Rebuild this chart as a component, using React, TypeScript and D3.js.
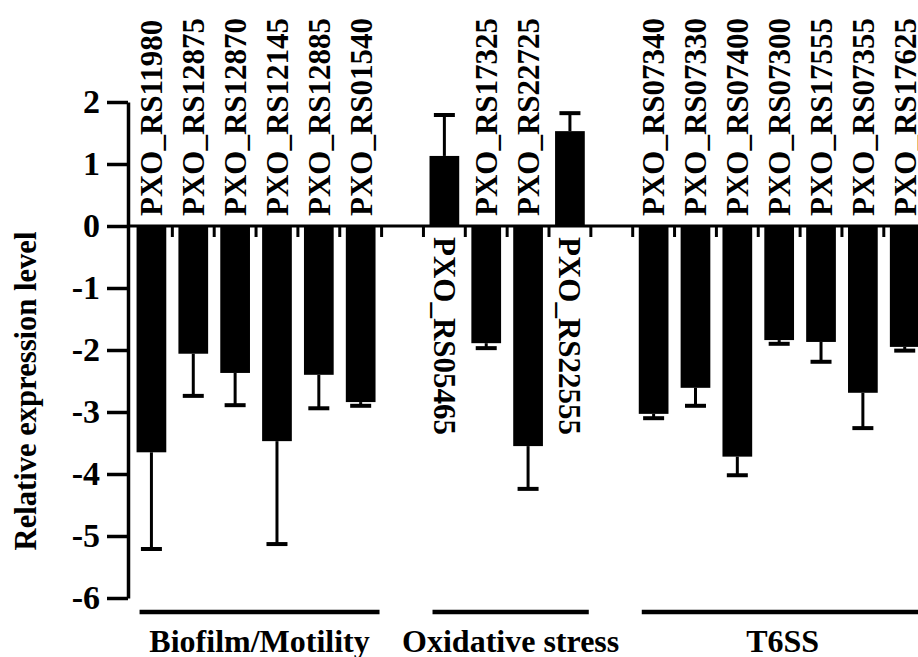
import React, { useRef, useEffect } from 'react';
import * as d3 from 'd3';

const groups = ['Biofilm/Motility', 'Oxidative stress', 'T6SS'];

const genes = [
  'PXO_RS11980', 'PXO_RS12875', 'PXO_RS12870', 'PXO_RS12145', 'PXO_RS12885', 'PXO_RS01540',
  'PXO_RS05465', 'PXO_RS17325', 'PXO_RS22725', 'PXO_RS22555',
  'PXO_RS07340', 'PXO_RS07330', 'PXO_RS07400', 'PXO_RS07300', 'PXO_RS17555', 'PXO_RS07355', 'PXO_RS17625',
];
const geneGroup = [0, 0, 0, 0, 0, 0, 1, 1, 1, 1, 2, 2, 2, 2, 2, 2, 2];

const values = [
  -3.65, -2.06, -2.37, -3.47, -2.4, -2.84,
  1.13, -1.89, -3.55, 1.53,
  -3.03, -2.61, -3.72, -1.84, -1.87, -2.69, -1.95,
];
const errors = [
  1.56, 0.68, 0.52, 1.66, 0.54, 0.06,
  0.66, 0.08, 0.69, 0.29,
  0.07, 0.29, 0.3, 0.06, 0.32, 0.57, 0.06,
];

const yTicks = [2, 1, 0, -1, -2, -3, -4, -5, -6];
const yTitle = 'Relative expression level';

const W = 918;
const H = 657;
const FONT = '"Liberation Serif", "Times New Roman", serif';

function App() {
  const svgRef = useRef<SVGSVGElement>(null);

  useEffect(() => {
    const svg = d3.select(svgRef.current);
    svg.selectAll('*').remove();

    // one slot per gene, with an empty slot between groups
    const slots: number[] = [];
    groups.forEach((g, gi) => {
      genes.forEach((name, i) => {
        if (geneGroup[i] === gi) slots.push(i);
      });
      if (gi < groups.length - 1) slots.push(-1);
    });

    const step = 41.85;
    const x = d3
      .scaleBand<number>()
      .domain(slots.map((s, i) => i))
      .range([130.5, 130.5 + step * slots.length])
      .paddingInner(0.29)
      .paddingOuter(0.145);
    const bw = x.bandwidth();

    const y = d3.scaleLinear().domain([-6, 2]).range([598, 102]);
    const y0 = y(0);

    // y axis
    const yAxis = svg
      .append('g')
      .attr('transform', 'translate(128,0)')
      .call(d3.axisLeft(y).tickValues(yTicks).tickSize(21).tickSizeOuter(0).tickPadding(7).tickFormat(d3.format('d')));
    yAxis.select('.domain').attr('stroke', '#000').attr('stroke-width', 3.5);
    yAxis.selectAll('.tick line').attr('stroke', '#000').attr('stroke-width', 3.5);
    yAxis
      .selectAll('.tick text')
      .attr('fill', '#000')
      .attr('font-family', FONT)
      .attr('font-weight', 'bold')
      .attr('font-size', 34)
      .text((d: any) => (d < 0 ? '-' + Math.abs(d) : String(d)));

    svg
      .append('text')
      .attr('transform', 'translate(25,391) rotate(-90)')
      .attr('text-anchor', 'middle')
      .attr('dy', '0.35em')
      .attr('font-family', FONT)
      .attr('font-weight', 'bold')
      .attr('font-size', 30.6)
      .text(yTitle);

    // zero line and slot ticks
    svg
      .append('line')
      .attr('x1', 128)
      .attr('x2', W)
      .attr('y1', y0)
      .attr('y2', y0)
      .attr('stroke', '#000')
      .attr('stroke-width', 3);

    svg
      .append('g')
      .selectAll('line')
      .data(slots.slice(1).map((s, i) => i + 1))
      .join('line')
      .attr('x1', (i) => x(i)! - (step - bw) / 2)
      .attr('x2', (i) => x(i)! - (step - bw) / 2)
      .attr('y1', y0)
      .attr('y2', y0 + 11)
      .attr('stroke', '#000')
      .attr('stroke-width', 3);

    const items = slots
      .map((g, i) => ({ gene: g, slot: i }))
      .filter((d) => d.gene >= 0)
      .map((d) => ({ ...d, v: values[d.gene], e: errors[d.gene], name: genes[d.gene], cx: x(d.slot)! + bw / 2 }));

    // error bars
    const eb = svg.append('g').attr('stroke', '#000');
    eb.selectAll('line.stem')
      .data(items)
      .join('line')
      .attr('class', 'stem')
      .attr('x1', (d) => d.cx)
      .attr('x2', (d) => d.cx)
      .attr('y1', (d) => y(d.v))
      .attr('y2', (d) => y(d.v + Math.sign(d.v) * d.e))
      .attr('stroke-width', 3);
    eb.selectAll('line.cap')
      .data(items)
      .join('line')
      .attr('class', 'cap')
      .attr('x1', (d) => d.cx - 10.5)
      .attr('x2', (d) => d.cx + 10.5)
      .attr('y1', (d) => y(d.v + Math.sign(d.v) * d.e))
      .attr('y2', (d) => y(d.v + Math.sign(d.v) * d.e))
      .attr('stroke-width', 4);

    // bars
    svg
      .append('g')
      .selectAll('rect')
      .data(items)
      .join('rect')
      .attr('x', (d) => x(d.slot)!)
      .attr('width', bw)
      .attr('y', (d) => Math.min(y(d.v), y0))
      .attr('height', (d) => Math.abs(y(d.v) - y0))
      .attr('fill', '#000');

    // gene labels on the opposite side of the zero line
    svg
      .append('g')
      .selectAll('text')
      .data(items)
      .join('text')
      .attr('transform', (d) =>
        d.v < 0 ? `translate(${d.cx},${y0 - 10}) rotate(-90)` : `translate(${d.cx},${y0 + 11}) rotate(90)`
      )
      .attr('text-anchor', 'start')
      .attr('dy', '0.35em')
      .attr('font-family', FONT)
      .attr('font-weight', 'bold')
      .attr('font-size', 31)
      .text((d) => d.name);

    // group brackets
    const gData = groups.map((g, gi) => {
      const s = items.filter((d) => geneGroup[d.gene] === gi);
      const x1 = x(s[0].slot)! + 3;
      const x2 = x(s[s.length - 1].slot)! + bw + 4;
      return { g, x1, x2 };
    });
    const gg = svg.append('g');
    gg.selectAll('line')
      .data(gData)
      .join('line')
      .attr('x1', (d) => d.x1)
      .attr('x2', (d) => d.x2)
      .attr('y1', 612)
      .attr('y2', 612)
      .attr('stroke', '#000')
      .attr('stroke-width', 4.5);
    gg.selectAll('text')
      .data(gData)
      .join('text')
      .attr('x', (d) => (d.x1 + d.x2) / 2)
      .attr('y', 652)
      .attr('text-anchor', 'middle')
      .attr('font-family', FONT)
      .attr('font-weight', 'bold')
      .attr('font-size', 32)
      .text((d) => d.g);
  }, []);

  return (
    <svg
      ref={svgRef}
      width={W}
      height={H}
      style={{ position: 'absolute', left: 0, top: 0, background: '#fff' }}
    ></svg>
  );
}

export default App;
